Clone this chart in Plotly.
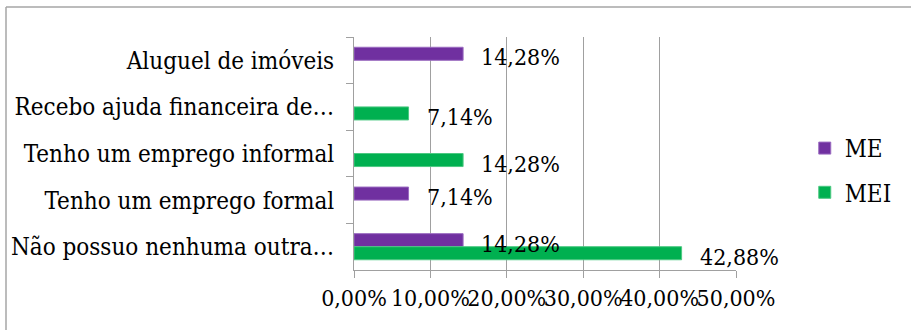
import plotly.graph_objects as go

categories = [
    "Aluguel de imóveis",
    "Recebo ajuda financeira de…",
    "Tenho um emprego informal",
    "Tenho um emprego formal",
    "Não possuo nenhuma outra…",
]
series_names = ["ME", "MEI"]
me_values = [0.1428, None, None, 0.0714, 0.1428]
mei_values = [None, 0.0714, 0.1428, None, 0.4288]
x_ticks = [0, 0.1, 0.2, 0.3, 0.4, 0.5]

colors = {"ME": "#7030A0", "MEI": "#00B050"}
edge = {"ME": "#9A6BC0", "MEI": "#4CC982"}
FONT = "DejaVu Serif Condensed, DejaVu Serif"
FS_CAT = 24
FS = 23

fig = go.Figure()
for name, vals in zip(series_names, [me_values, mei_values]):
    fig.add_trace(go.Bar(
        y=categories, x=vals, name=name, orientation="h",
        marker=dict(color=colors[name], line=dict(color=edge[name], width=1)),
        hoverinfo="skip", legendgroup=name,
    ))

def fmt(v):
    return f"{v*100:.2f}%".replace(".", ",")

annotations = []
for name, vals, ysh in [("ME", me_values, 3), ("MEI", mei_values, -10)]:
    for c, v in zip(categories, vals):
        if v:
            annotations.append(dict(
                x=v, y=c, xref="x", yref="y", text=fmt(v), showarrow=False,
                xanchor="left", yanchor="middle", xshift=16, yshift=ysh,
                font=dict(family=FONT, size=FS, color="#000000"),
            ))

fig.update_layout(
    width=911, height=330,
    margin=dict(l=354, r=175, t=37, b=60),
    paper_bgcolor="white", plot_bgcolor="white",
    barmode="group", bargap=0.44, bargroupgap=0,
    separators=",.",
    font=dict(family=FONT, size=FS, color="#000000"),
    annotations=annotations,
    legend=dict(
        x=1.18, y=0.427, xanchor="left", yanchor="middle",
        font=dict(family=FONT, size=FS_CAT, color="#000000"),
        bgcolor="rgba(0,0,0,0)", tracegroupgap=10, traceorder="grouped",
    ),
    shapes=[
        dict(type="line", xref="paper", yref="paper", x0=-0.911, x1=1.5,
             y0=1.1288, y1=1.1288, line=dict(color="#A6A6A6", width=1.5)),
        dict(type="line", xref="paper", yref="paper", x0=-0.911, x1=-0.911,
             y0=1.1288, y1=-0.3, line=dict(color="#A6A6A6", width=1.5)),
    ],
)
fig.update_xaxes(
    range=[0, 0.5], tickvals=x_ticks, tickformat=".2%", tickangle=0,
    showgrid=True, gridcolor="#A0A0A0", gridwidth=1,
    showline=True, linecolor="#A0A0A0", linewidth=1,
    ticks="outside", ticklen=7, tickcolor="#A0A0A0",
    zeroline=False, tickfont=dict(family=FONT, size=FS, color="#000000"),
)
fig.update_yaxes(
    autorange="reversed", type="category",
    showline=True, linecolor="#A0A0A0", linewidth=1,
    ticks="outside", ticklen=7, tickcolor="#A0A0A0", tickson="boundaries",
    showgrid=False, ticklabelstandoff=14,
    tickfont=dict(family=FONT, size=FS_CAT, color="#000000"),
)

fig.write_html("out.html")
